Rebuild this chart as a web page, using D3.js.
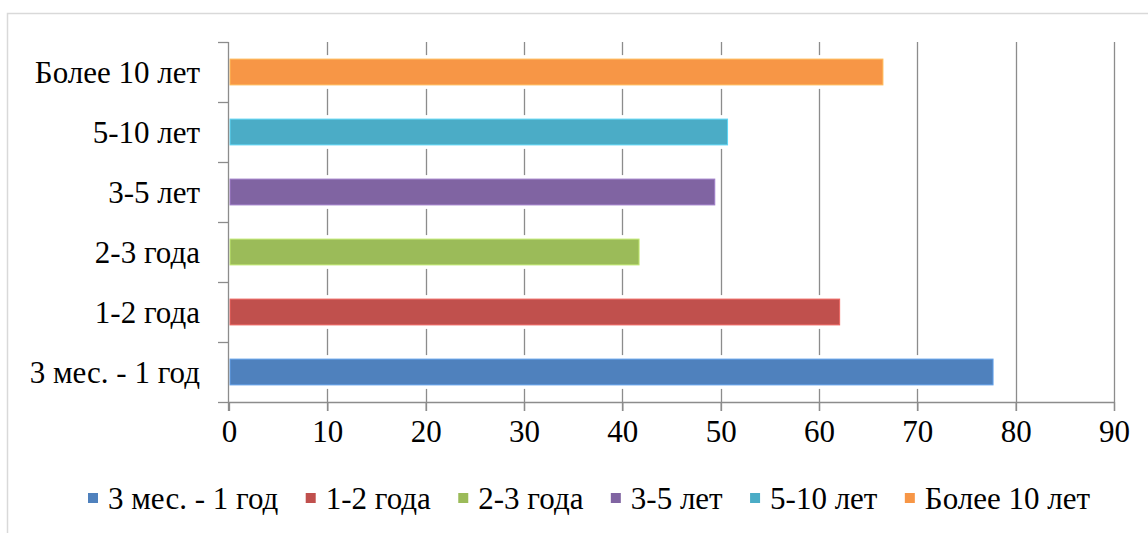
<!DOCTYPE html>
<html>
<head>
<meta charset="utf-8">
<script src="https://cdn.jsdelivr.net/npm/d3@7"></script>
<style>
  html, body { margin: 0; padding: 0; background: #fff; }
  svg { display: block; }
  svg text { font-family: "Liberation Serif", "DejaVu Serif", "Noto Serif", serif !important; fill: #000; }
</style>
</head>
<body>
<svg id="chart" width="1148" height="533"></svg>
<script>
// Stazh groups, top to bottom as drawn
const categories = ["Более 10 лет", "5-10 лет", "3-5 лет", "2-3 года", "1-2 года", "3 мес. - 1 год"];
const values     = [66.5, 50.7, 49.4, 41.7, 62.1, 77.7];
const colors     = ["#F79646", "#4BACC6", "#8064A2", "#9BBB59", "#C0504D", "#4F81BD"];
const xTicks     = [0, 10, 20, 30, 40, 50, 60, 70, 80, 90];
// Legend order follows the series order
const legendOrder = ["3 мес. - 1 год", "1-2 года", "2-3 года", "3-5 лет", "5-10 лет", "Более 10 лет"];

const svg = d3.select("#chart");
const plotLeft = 229, plotRight = 1114, plotTop = 42, plotBottom = 402;
const gridColor = "#8c8c8c";
const fontSize = 31;
const serif = "'Liberation Serif', 'DejaVu Serif', 'Noto Serif', serif";

// outer frame
svg.append("rect")
  .attr("x", 7.5).attr("y", 13.5).attr("width", 1300).attr("height", 700)
  .attr("fill", "none").attr("stroke", "#d9d9d9").attr("stroke-width", 1.5);

const x = d3.scaleLinear().domain([0, 90]).range([plotLeft, plotRight]);
const y = d3.scaleBand().domain(categories).range([plotTop, plotBottom]).padding(0);
const barH = y.bandwidth() * 0.43;

// vertical gridlines with tick marks below the axis
svg.append("g").selectAll("line").data(xTicks.slice(1)).join("line")
  .attr("x1", d => Math.round(x(d)) + 0.5).attr("x2", d => Math.round(x(d)) + 0.5)
  .attr("y1", plotTop).attr("y2", plotBottom + 9)
  .attr("stroke", gridColor).attr("stroke-width", 1.3);

// white halo around each bar (interrupts the gridlines)
svg.append("g").selectAll("rect").data(categories).join("rect")
  .attr("x", plotLeft + 1)
  .attr("y", d => y(d) + (y.bandwidth() - barH) / 2 - 4)
  .attr("width", (d, i) => x(values[i]) - plotLeft + 1)
  .attr("height", barH + 8)
  .attr("fill", "#fff");

// bars
svg.append("g").selectAll("rect").data(categories).join("rect")
  .attr("x", plotLeft + 1)
  .attr("y", d => y(d) + (y.bandwidth() - barH) / 2)
  .attr("width", (d, i) => x(values[i]) - plotLeft - 1)
  .attr("height", barH)
  .attr("fill", (d, i) => colors[i])
  .attr("stroke", (d, i) => d3.color(colors[i]).brighter(0.6))
  .attr("stroke-width", 1);

// x axis
const xAxis = svg.append("g").attr("transform", `translate(0,${plotBottom})`)
  .call(d3.axisBottom(x).tickValues(xTicks).tickSize(9).tickPadding(8).tickFormat(d3.format("d")));
xAxis.attr("font-family", serif).attr("font-size", fontSize);
xAxis.select(".domain").attr("stroke", gridColor).attr("stroke-width", 1.3)
  .attr("d", `M${plotLeft},0.5H${plotRight + 0.5}`);
xAxis.selectAll(".tick line").attr("stroke", gridColor).attr("stroke-width", 1.3);
xAxis.selectAll(".tick text").attr("fill", "#000").attr("dy", "0.75em");

// y axis: ticks on category boundaries
const yAxis = svg.append("g").attr("transform", `translate(${plotLeft - 1},0)`)
  .attr("font-family", serif).attr("font-size", fontSize);
yAxis.append("line").attr("x1", 0.5).attr("x2", 0.5).attr("y1", plotTop).attr("y2", plotBottom + 9)
  .attr("stroke", gridColor).attr("stroke-width", 1.3);
const bounds = categories.map(c => y(c)).concat([plotBottom]);
yAxis.selectAll(".bt").data(bounds).join("line").attr("class", "bt")
  .attr("x1", -10).attr("x2", 0.5)
  .attr("y1", d => Math.round(d) + 0.5).attr("y2", d => Math.round(d) + 0.5)
  .attr("stroke", gridColor).attr("stroke-width", 1.3);
yAxis.selectAll("text").data(categories).join("text")
  .attr("x", -28)
  .attr("y", d => y(d) + y.bandwidth() / 2)
  .attr("dy", "0.35em")
  .attr("text-anchor", "end")
  .text(d => d);

// legend: one row spread between legendStart and legendEnd
const legendStart = 88, legendEnd = 1090;
const legend = svg.append("g").attr("transform", `translate(${legendStart},498)`)
  .attr("font-family", serif).attr("font-size", fontSize);
const items = legendOrder.map(name => {
  const i = categories.indexOf(name);
  const g = legend.append("g");
  g.append("rect").attr("x", 0).attr("y", -5).attr("width", 10).attr("height", 10).attr("fill", colors[i]);
  const t = g.append("text").attr("x", 20).attr("y", 0).attr("dy", "0.35em").text(name);
  return { g, w: 20 + t.node().getComputedTextLength() };
});
const totalW = d3.sum(items, d => d.w);
const gap = Math.max(12, (legendEnd - legendStart - totalW) / (items.length - 1));
let cx = 0;
items.forEach(it => {
  it.g.attr("transform", `translate(${cx},0)`);
  cx += it.w + gap;
});
</script>
</body>
</html>
